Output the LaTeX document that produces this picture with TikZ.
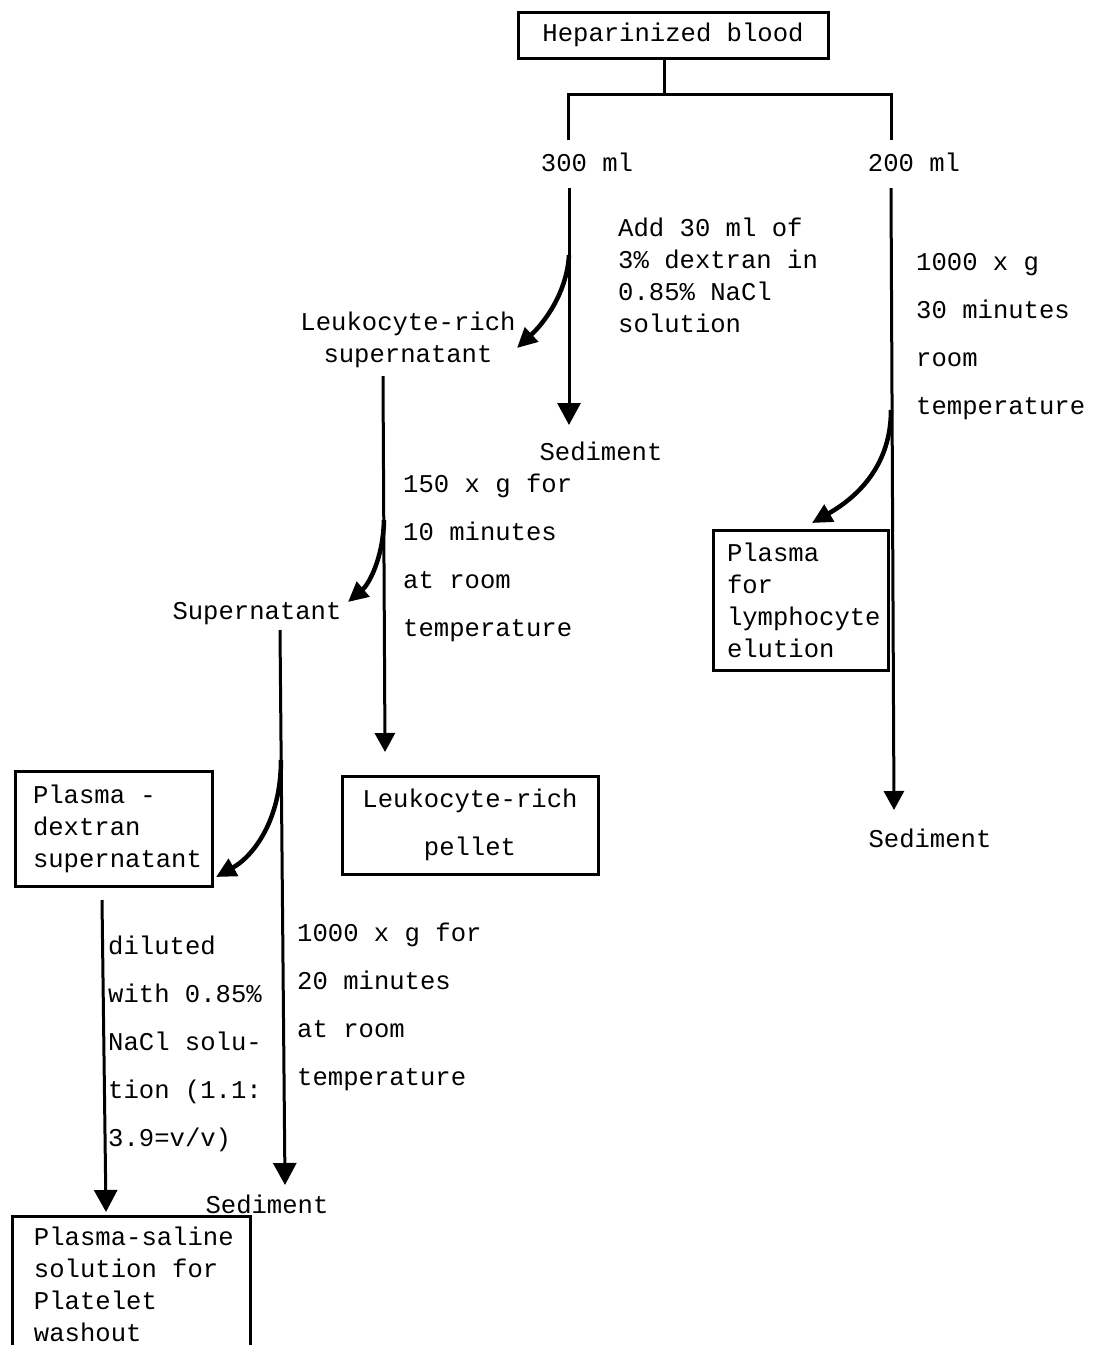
\documentclass[tikz,border=0pt]{standalone}
\usepackage{fontspec}
\newfontfamily\tw{Liberation Mono}
\usetikzlibrary{arrows.meta}
% typewriter face with a fixed word space of one character cell
\newcommand{\twfont}[1]{\tw\fontsize{25.6}{#1}\selectfont\spaceskip=15.36pt\relax}
\begin{document}
\begin{tikzpicture}[x=1pt,y=-1pt,
  txt/.style={font=\twfont{32}, inner sep=0pt},
  tight/.style={txt, align=left},
  wide/.style={font=\twfont{48}, inner sep=0pt, align=left},
  boxed/.style={draw, line width=3pt, font=\twfont{32},
    execute at begin node={\spaceskip=15.36pt\xspaceskip=15.36pt\relax}},
  flow/.style={line width=3pt},
  arr/.style={flow, -{Triangle[width=23pt,length=22pt]}},
  arrsmall/.style={flow, -{Triangle[width=20pt,length=19pt]}},
  bendarr/.style={line width=4.5pt, -{Triangle[width=19pt,length=20pt]}}]
\useasboundingbox (0,0) rectangle (1094,1345);
\clip (0,0) rectangle (1094,1345);

% boxes
\node[boxed, minimum width=310pt, minimum height=46pt] (hep) at (673,35) {Heparinized blood};
\node[boxed, minimum width=175pt, minimum height=140pt, inner xsep=14pt,
      text width=147pt, align=left] (lym) at (800.5,600) {Plasma\\for\\lymphocyte\\elution};
\node[boxed, minimum width=197pt, minimum height=115pt, inner xsep=18pt,
      text width=161pt, align=left] (pds) at (113.5,828.5) {Plasma -\\dextran\\supernatant};
\node[boxed, minimum width=256pt, minimum height=98pt, align=center,
      font=\twfont{48}] (pel) at (470,825) {Leukocyte-rich\\pellet};
\node[boxed, minimum width=238pt, minimum height=136pt, inner xsep=22pt,
      text width=194pt, align=left] (pss) at (131,1284) {\mbox{Plasma-saline}\\solution for\\Platelet\\washout};

% labels (multi-line nodes are placed by the baseline of their last line)
\node[txt, anchor=base] (v300) at (587,171) {300 ml};
\node[txt, anchor=base] (v200) at (914,171) {200 ml};
\node[tight, anchor=base west] (dex) at (618,332) {Add 30 ml of\\3\% dextran in\\0.85\% NaCl\\solution};
\node[txt, align=center, anchor=base] (lrs) at (408,362) {Leukocyte-rich\\supernatant};
\node[txt, anchor=base] (sedA) at (601,460) {Sediment};
\node[wide, anchor=base west] (spinA) at (403,636) {150 x g for\\10 minutes\\at room\\temperature};
\node[wide, anchor=base west] (spinB) at (916,414) {1000 x g\\30 minutes\\room\\temperature};
\node[txt, anchor=base] (sup) at (257,619) {Supernatant};
\node[wide, anchor=base west] (dil) at (108,1146) {diluted\\with 0.85\%\\NaCl solu-\\tion (1.1:\\3.9=v/v)};
\node[wide, anchor=base west] (spinC) at (297,1085) {1000 x g for\\20 minutes\\at room\\temperature};
\node[txt, anchor=base] (sedB) at (267,1213) {Sediment};
\node[txt, anchor=base] (sedC) at (930,847) {Sediment};

% split of the blood sample
\coordinate (split) at (664,94);
\coordinate (lt) at (568,140);
\coordinate (rt) at (891,140);
\draw[flow] (hep.south -| split) -- (split);
\draw[flow] (lt) |- (split) -| (rt);

% 300 ml branch: dextran sedimentation
\coordinate (a0) at (569,188);
\coordinate (a1) at (569,425);
\coordinate (ab) at (569,255);
\coordinate (ae) at (517,348);
\draw[arr] (a0) -- (a1);
\draw[bendarr] (ab) .. controls (567,292) and (545,322) .. (ae);

% leukocyte-rich supernatant: 150 x g
\coordinate (b0) at (383,376);
\coordinate (b1) at (385,752);
\coordinate (bb) at (384,520);
\coordinate (be) at (348,602);
\draw[arrsmall] (b0) -- (b1);
\draw[bendarr] (bb) .. controls (383,560) and (368,585) .. (be);

% supernatant: 1000 x g
\coordinate (d0) at (280,630);
\coordinate (d1) at (285,1185);
\coordinate (db) at (281,760);
\coordinate (de) at (216,877);
\draw[arr] (d0) -- (d1);
\draw[bendarr] (db) .. controls (281,822) and (252,857) .. (de);

% plasma-dextran supernatant: dilution
\coordinate (e0) at (102,900);
\coordinate (e1) at (106,1212);
\draw[arr] (e0) -- (e1);

% 200 ml branch: 1000 x g
\coordinate (c0) at (891,188);
\coordinate (c1) at (894,810);
\coordinate (cb) at (891,410);
\coordinate (ce) at (812,523);
\draw[arrsmall] (c0) -- (c1);
\draw[bendarr] (cb) .. controls (891,470) and (852,500) .. (ce);
\end{tikzpicture}
\end{document}
